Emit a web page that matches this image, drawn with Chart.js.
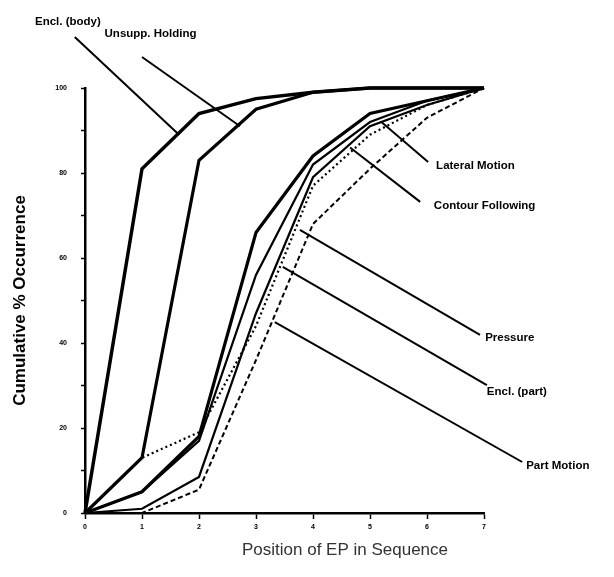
<!DOCTYPE html>
<html>
<head>
<meta charset="utf-8">
<script src="https://cdn.jsdelivr.net/npm/chart.js@4"></script>
<style>
  html, body { margin: 0; padding: 0; background: #fff; }
  #wrap { width: 614px; height: 577px; }
</style>
</head>
<body>
<div id="wrap"><canvas id="epChart" width="614" height="577"></canvas></div>
<script>
// position of EP in sequence
const positions = [0, 1, 2, 3, 4, 5, 6, 7];

// cumulative % occurrence per exploratory procedure
const enclBody = [0, 81, 94, 97.5, 99, 100, 100, 100];
const unsuppHolding = [0, 13, 83, 95, 99, 100, 100, 100];
const lateralMotion = [0, 5, 18, 66, 84, 94, 97, 100];
const contourFollowing = [0, 5, 17, 56, 82, 92, 97, 100];
const pressure = [0, 1, 8.5, 47, 79, 91, 96, 100];
const enclPart = [0, 13, 19, 44, 77, 89, 96, 100];
const partMotion = [0, 0, 5.5, 36, 68, 81, 93, 100];

const yTicks = [0, 20, 40, 60, 80, 100];

const toPoints = vals => vals.map((v, i) => ({ x: positions[i], y: v }));

function series(label, vals, width, dash) {
    return {
        label: label,
        data: toPoints(vals),
        borderColor: '#000',
        borderWidth: width,
        borderDash: dash || [],
        pointRadius: 0,
        tension: 0,
        clip: false,
        fill: false
    };
}

// leader lines for the curve labels: [text, from (on curve), to (label end), label anchor, text align]
const leaders = [
    ['Encl. (body)', [1.65, 89], [-0.18, 112], [-0.3, 115.5], 'center'],
    ['Unsupp. Holding', [2.72, 91], [1.0, 107.3], [1.15, 112.8], 'center'],
    ['Lateral Motion', [5.2, 92], [6.02, 82.6], [6.16, 81.6], 'left'],
    ['Contour Following', [4.65, 86], [5.88, 73.2], [6.12, 72.2], 'left'],
    ['Pressure', [3.77, 66.6], [6.93, 41.9], [7.02, 41.2], 'left'],
    ['Encl. (part)', [3.47, 57.9], [7.05, 30.1], [7.05, 28.6], 'left'],
    ['Part Motion', [3.33, 44.9], [7.67, 12], [7.74, 11.1], 'left']
];

const leaderPlugin = {
    id: 'leaders',
    afterDatasetsDraw(chart) {
        const { ctx, scales: { x, y } } = chart;
        ctx.save();
        ctx.strokeStyle = '#000';
        ctx.lineWidth = 2;
        ctx.fillStyle = '#000';
        ctx.font = 'bold 11.5px "Liberation Sans", Arial, sans-serif';
        ctx.textBaseline = 'middle';
        leaders.forEach(([text, from, to, at, align]) => {
            ctx.beginPath();
            ctx.moveTo(x.getPixelForValue(from[0]), y.getPixelForValue(from[1]));
            ctx.lineTo(x.getPixelForValue(to[0]), y.getPixelForValue(to[1]));
            ctx.stroke();
            ctx.textAlign = align;
            ctx.fillText(text, x.getPixelForValue(at[0]), y.getPixelForValue(at[1]));
        });
        // x axis title sits right of the plot centre in the original
        ctx.font = '17px "Liberation Sans", Arial, sans-serif';
        ctx.fillStyle = '#333';
        ctx.textAlign = 'center';
        ctx.fillText('Position of EP in Sequence', 345, 550);
        ctx.restore();
    }
};

const epChart = new Chart(document.getElementById('epChart'), {
    type: 'line',
    data: {
        datasets: [
            series('Encl. (body)', enclBody, 3.5),
            series('Unsupp. Holding', unsuppHolding, 3.2),
            series('Lateral Motion', lateralMotion, 3.2),
            series('Contour Following', contourFollowing, 2.2),
            series('Pressure', pressure, 2.2),
            series('Encl. (part)', enclPart, 2.2, [2, 3]),
            series('Part Motion', partMotion, 2, [5, 3])
        ]
    },
    options: {
        responsive: false,
        animation: false,
        layout: { padding: { top: 88, right: 130, left: 0, bottom: 0 } },
        plugins: { legend: { display: false }, tooltip: { enabled: false } },
        scales: {
            x: {
                type: 'linear',
                min: 0,
                max: 7,
                afterFit: s => { s.height = 64; },
                ticks: {
                    stepSize: 1,
                    padding: 4,
                    color: '#000',
                    font: { size: 7, weight: 'bold', family: 'Liberation Sans' }
                },
                grid: { drawOnChartArea: false, tickLength: 6, tickColor: '#000', tickWidth: 1.5 },
                border: { color: '#000', width: 2.5 }
            },
            y: {
                min: 0,
                max: 100,
                afterFit: s => { s.width = 85; },
                ticks: {
                    stepSize: 10,
                    padding: 14,
                    color: '#000',
                    font: { size: 7, weight: 'bold', family: 'Liberation Sans' },
                    callback: v => yTicks.includes(v) ? v : ''
                },
                grid: { drawOnChartArea: false, tickLength: 4, tickColor: '#000', tickWidth: 1.5 },
                border: { color: '#000', width: 2.5 },
                title: {
                    display: true,
                    text: 'Cumulative % Occurrence',
                    color: '#000',
                    padding: { top: 10, bottom: 0 },
                    font: { size: 17, weight: 'bold', family: 'Liberation Sans' }
                }
            }
        }
    },
    plugins: [leaderPlugin]
});
</script>
</body>
</html>
